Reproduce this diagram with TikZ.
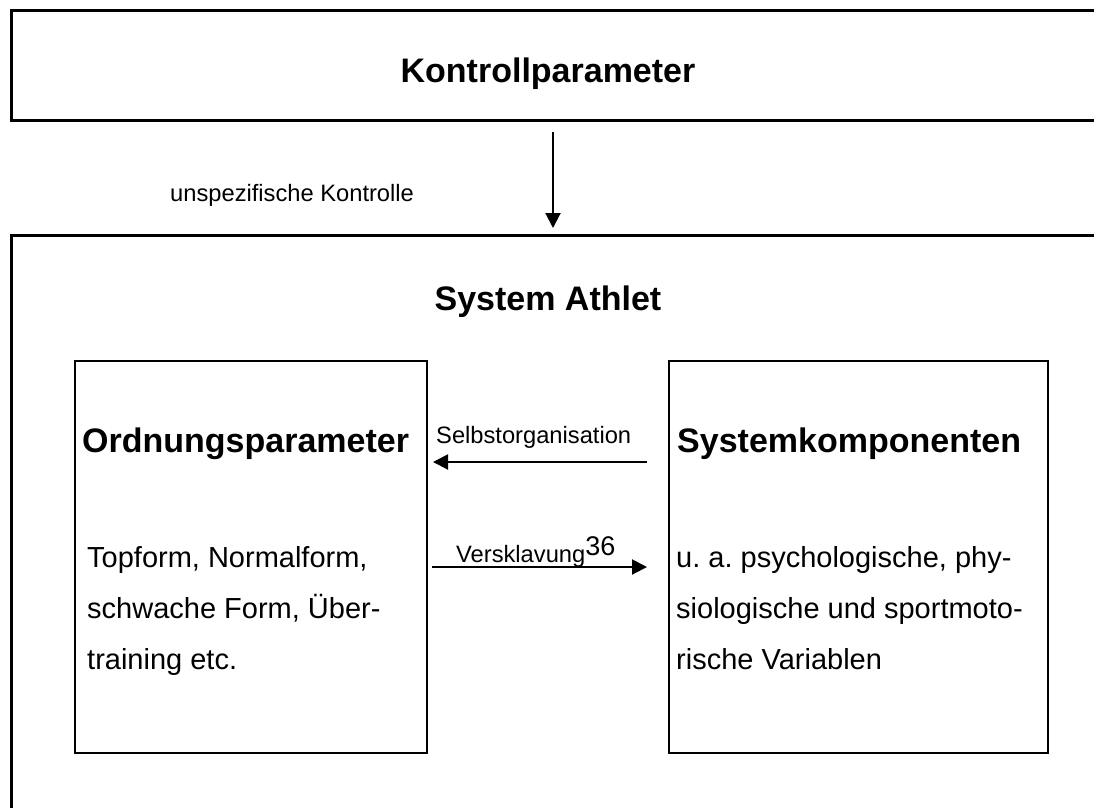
\documentclass[tikz,border=0pt]{standalone}
\usepackage{fontspec}
\setmainfont{Liberation Sans}
\usetikzlibrary{arrows.meta}
\frenchspacing
\begin{document}
\begin{tikzpicture}[x=1pt,y=-1pt,
  frame/.style={draw, line width=3pt, inner sep=0pt, anchor=north west},
  inbox/.style={draw, line width=2pt, inner sep=0pt, anchor=north west},
  title/.style={font=\fontsize{34}{40}\selectfont\bfseries, inner sep=0pt, anchor=base},
  body/.style={font=\fontsize{29}{35}\selectfont, inner sep=0pt, anchor=base west},
  small/.style={font=\fontsize{23.7}{28}\selectfont, inner sep=0pt, anchor=base west},
  conn/.style={line width=2pt, -{Triangle[length=15pt,width=15pt]}}]
\useasboundingbox (0,0) rectangle (1094,807);
\clip (0,0) rectangle (1094,807);

% frames running off the right (and lower) edge
\node[frame, minimum width=1110pt, minimum height=110pt] (top) at (10,9) {};
\node[frame, minimum width=1110pt, minimum height=666pt] (sys) at (10,234) {};

% inner boxes
\node[inbox, minimum width=352pt, minimum height=392pt] (op) at (74,360) {};
\node[inbox, minimum width=379pt, minimum height=392pt] (sk) at (668,360) {};

% headings
\node[title] (kp) at (548,82) {Kontrollparameter};
\node[title] (sa) at (548,310) {System Athlet};
\node[title, anchor=base west] (opt) at (82,452) {Ordnungsparameter};
\node[title, anchor=base west] (skt) at (677,452) {Systemkomponenten};

% body text
\node[body] (op1) at (87,567) {Topform, Normalform,};
\node[body] (op2) at (87,618) {schwache Form, Über-};
\node[body] (op3) at (87,669) {training etc.};
\node[body] (sk1) at (676,567) {u. a. psychologische, phy-};
\node[body] (sk2) at (676,618) {siologische und sportmoto-};
\node[body] (sk3) at (676,669) {rische Variablen};

% connector labels
\node[small] (uk) at (170,201) {unspezifische Kontrolle};
\node[small] (so) at (436,443) {Selbstorganisation};
\node[small] (vk) at (456,562) {Versklavung\raisebox{7pt}{\fontsize{27}{30}\selectfont 36}};

% connectors
\coordinate (c1) at (553,132);
\coordinate (r1) at (0,462);
\coordinate (r2) at (0,567);
\draw[conn, shorten >=6pt] (c1) -- (c1 |- sys.north);
\draw[conn, shorten <=21pt, shorten >=5pt] (sk.west |- r1) -- (op.east |- r1);
\draw[conn, shorten <=4pt, shorten >=21pt] (op.east |- r2) -- (sk.west |- r2);
\end{tikzpicture}
\end{document}
